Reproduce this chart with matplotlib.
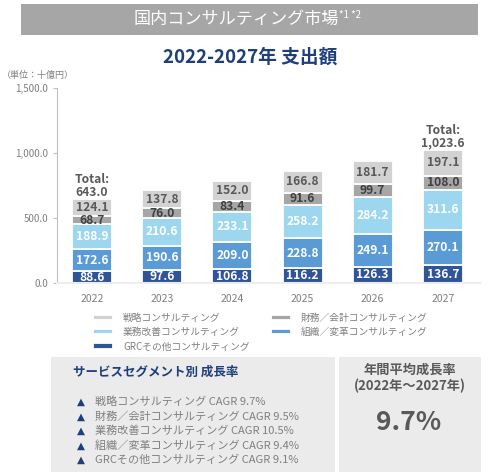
import matplotlib
matplotlib.use("Agg")
import matplotlib.pyplot as plt
from matplotlib.patches import Rectangle
import numpy as np

plt.rcParams['font.family'] = ['Noto Sans CJK JP', 'DejaVu Sans']

years = ['2022', '2023', '2024', '2025', '2026', '2027']
grc = [88.6, 97.6, 106.8, 116.2, 126.3, 136.7]
soshiki = [172.6, 190.6, 209.0, 228.8, 249.1, 270.1]
gyomu = [188.9, 210.6, 233.1, 258.2, 284.2, 311.6]
zaimu = [68.7, 76.0, 83.4, 91.6, 99.7, 108.0]
senryaku = [124.1, 137.8, 152.0, 166.8, 181.7, 197.1]
totals = {0: '643.0', 5: '1,023.6'}

series = [
    ('GRCその他コンサルティング', grc, '#2F5597', 'white'),
    ('組織／変革コンサルティング', soshiki, '#5B9BD5', 'white'),
    ('業務改善コンサルティング', gyomu, '#9DD6EF', 'white'),
    ('財務／会計コンサルティング', zaimu, '#A6A6A6', '#404040'),
    ('戦略コンサルティング', senryaku, '#D2D2D2', '#595959'),
]

cagr_lines = [
    '戦略コンサルティング CAGR 9.7%',
    '財務／会計コンサルティング CAGR 9.5%',
    '業務改善コンサルティング CAGR 10.5%',
    '組織／変革コンサルティング CAGR 9.4%',
    'GRCその他コンサルティング CAGR 9.1%',
]

W, H = 500, 476
fig = plt.figure(figsize=(5, 4.76), dpi=100)

def fx(px):
    return px / W

def fy(py):
    return 1 - py / H

# header bar
fig.patches.append(Rectangle((fx(21), fy(35)), fx(457), 31 / H, transform=fig.transFigure,
                             facecolor='#A6A6A6', edgecolor='none'))
fig.text(fx(236), fy(19), '国内コンサルティング市場', color='white', fontsize=12.3,
         ha='center', va='center')
fig.text(fx(339), fy(15), '*1 *2', color='white', fontsize=7, ha='left', va='center')

fig.text(0.5, fy(57), '2022-2027年 支出額', color='#1F3F7A', fontsize=13.5,
         fontweight='bold', ha='center', va='center')
fig.text(fx(2), fy(75), '（単位：十億円）', color='#7F7F7F', fontsize=6.5,
         ha='left', va='center')

ax = fig.add_axes([fx(57), fy(283), fx(480 - 57), (283 - 88) / H])
x = np.arange(len(years))
bottom = np.zeros(len(years))
handles = {}
for name, vals, col, tcol in series:
    vals = np.array(vals)
    b = ax.bar(x, vals, 0.57, bottom=bottom, color=col, edgecolor='white', linewidth=1.3)
    handles[name] = b
    for xi, v, b0 in zip(x, vals, bottom):
        ax.text(xi, b0 + v / 2, f'{v:.1f}', ha='center', va='center', color=tcol,
                fontsize=8.7, fontweight='bold')
    bottom += vals

for i, t in totals.items():
    ax.text(x[i], bottom[i] + 3, 'Total:\n' + t, ha='center', va='bottom', color='#595959',
            fontsize=8.7, fontweight='bold', linespacing=1.0)

ax.set_xlim(-0.5, 5.53)
ax.set_ylim(0, 1500)
ax.set_yticks([0, 500, 1000, 1500])
ax.set_yticklabels(['0.0', '500.0', '1,000.0', '1,500.0'])
ax.set_xticks(x)
ax.set_xticklabels(years)
ax.tick_params(axis='y', colors='#BFBFBF', labelcolor='#7F7F7F', labelsize=7, length=3)
ax.tick_params(axis='x', length=0, labelcolor='#7F7F7F', labelsize=7.5, pad=8)
for s in ['top', 'right']:
    ax.spines[s].set_visible(False)
ax.spines['left'].set_color('#BFBFBF')
ax.spines['bottom'].set_color('#EDEDED')
ax.spines['bottom'].set_linewidth(1.5)

order = ['戦略コンサルティング', '業務改善コンサルティング', 'GRCその他コンサルティング',
         '財務／会計コンサルティング', '組織／変革コンサルティング']
fig.legend([handles[n] for n in order], order, ncol=2, loc='upper left',
           bbox_to_anchor=(fx(84), fy(304)), frameon=False, fontsize=7,
           handlelength=2.1, handleheight=0.5, labelspacing=0.45, columnspacing=2.2,
           handletextpad=1.0, labelcolor='#7F7F7F')

# bottom boxes
fig.patches.append(Rectangle((fx(51), fy(472)), fx(284), 115 / H, transform=fig.transFigure,
                             facecolor='#EBEBEB', edgecolor='none'))
fig.patches.append(Rectangle((fx(339), fy(472)), fx(142), 115 / H, transform=fig.transFigure,
                             facecolor='#EBEBEB', edgecolor='none'))
fig.text(fx(73), fy(372), 'サービスセグメント別 成長率', color='#1F3F7A', fontsize=9,
         fontweight='bold', ha='left', va='center')
for k, line in enumerate(cagr_lines):
    yy = fy(402 + k * 14.5)
    fig.text(fx(77), yy, '▲', color='#1F3F7A', fontsize=7.5, ha='left', va='center',
             family='DejaVu Sans')
    fig.text(fx(95), yy, line, color='#7F7F7F', fontsize=8, ha='left', va='center')

fig.text(fx(410), fy(370), '年間平均成長率', color='#595959', fontsize=9.5,
         fontweight='bold', ha='center', va='center')
fig.text(fx(410), fy(386), '(2022年～2027年)', color='#595959', fontsize=9.5,
         fontweight='bold', ha='center', va='center')
fig.text(fx(409), fy(422), '9.7%', color='#595959', fontsize=19,
         fontweight='bold', ha='center', va='center')

fig.savefig('out.png', dpi=100)
